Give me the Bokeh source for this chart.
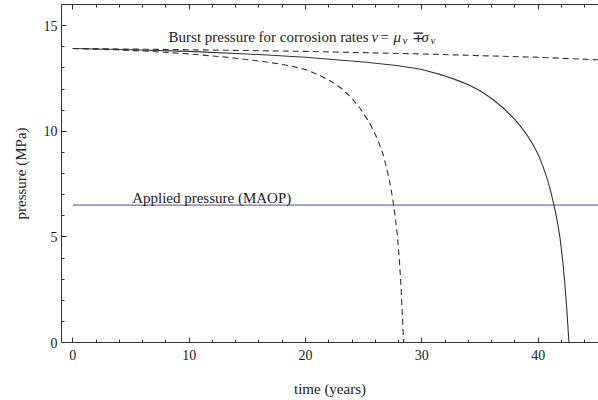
from bokeh.plotting import figure
from bokeh.models import LinearAxis, Range1d, Label, FixedTicker
from bokeh.embed import file_html
from bokeh.resources import INLINE

# Burst pressure, mean corrosion rate (solid)
t_mean = [0, 5, 10, 15, 20, 25, 28, 30, 32, 33, 34, 35, 36, 37, 38, 38.5, 39, 39.5, 40,
          40.4, 40.8, 41.1, 41.35, 41.6, 41.86, 42.1, 42.3, 42.45, 42.57, 42.64]
p_mean = [13.92, 13.86, 13.78, 13.66, 13.5, 13.28, 13.1, 12.92, 12.62, 12.42, 12.2, 11.92,
          11.55, 11.1, 10.55, 10.22, 9.85, 9.42, 8.9, 8.35, 7.7, 7.1, 6.5, 5.85, 5.0, 3.9,
          2.7, 1.6, 0.6, 0.0]

# Burst pressure, mean + sigma corrosion rate (dashed, fast)
t_fast = [0, 3.33, 6.67, 10, 13.33, 16.67, 18.67, 20, 21.33, 22, 22.67, 23.33, 24, 24.67,
          25.33, 25.67, 26, 26.33, 26.67, 26.93, 27.2, 27.4, 27.57, 27.73, 27.91, 28.07,
          28.2, 28.3, 28.38, 28.43]
p_fast = [13.92, 13.86, 13.78, 13.66, 13.5, 13.28, 13.1, 12.92, 12.62, 12.42, 12.2, 11.92,
          11.55, 11.1, 10.55, 10.22, 9.85, 9.42, 8.9, 8.35, 7.7, 7.1, 6.5, 5.85, 5.0, 3.9,
          2.7, 1.6, 0.6, 0.0]

# Burst pressure, mean - sigma corrosion rate (dashed, slow)
t_slow = [0, 10, 20, 30, 40, 45.2]
p_slow = [13.92, 13.86, 13.78, 13.66, 13.5, 13.38]

# Applied pressure (MAOP)
maop_t = [0, 45.2]
maop_p = [6.5, 6.5]

x_major = [0, 10, 20, 30, 40]
x_minor = [2, 4, 6, 8, 12, 14, 16, 18, 22, 24, 26, 28, 32, 34, 36, 38, 42, 44]
y_major = [0, 5, 10, 15]
y_minor = [1, 2, 3, 4, 6, 7, 8, 9, 11, 12, 13, 14]

FONT = "Liberation Serif"
INK = "#222222"
AX = "#333333"

p = figure(width=598, height=400, output_backend="svg", toolbar_location=None,
           x_range=Range1d(-0.97, 45.18), y_range=Range1d(0, 16.0),
           x_axis_location=None, y_axis_location=None,
           min_border_left=61, min_border_right=0, min_border_top=4, min_border_bottom=58)
p.grid.visible = False
p.outline_line_color = None
p.background_fill_color = "white"
p.border_fill_color = "white"


def style_axis(ax):
    ax.axis_line_color = AX
    ax.axis_line_width = 1
    ax.major_tick_line_color = AX
    ax.minor_tick_line_color = AX
    ax.major_tick_in = 5
    ax.major_tick_out = 0
    ax.minor_tick_in = 3
    ax.minor_tick_out = 0
    ax.major_label_text_font = FONT
    ax.major_label_text_font_size = "14px"
    ax.major_label_text_color = INK
    ax.axis_label_text_font = FONT
    ax.axis_label_text_font_size = "15px"
    ax.axis_label_text_font_style = "normal"
    ax.axis_label_text_color = INK


xax = LinearAxis(ticker=FixedTicker(ticks=x_major, minor_ticks=x_minor), axis_label="time (years)")
style_axis(xax)
xax.major_label_standoff = 7
xax.axis_label_standoff = 18
p.add_layout(xax, "below")

yax = LinearAxis(ticker=FixedTicker(ticks=y_major, minor_ticks=y_minor), axis_label="pressure (MPa)")
style_axis(yax)
yax.major_label_standoff = 4
yax.axis_label_standoff = 12
p.add_layout(yax, "left")

# top frame edge: ticks only, no labels drawn
tax = LinearAxis(ticker=FixedTicker(ticks=x_major, minor_ticks=x_minor))
style_axis(tax)
tax.major_label_text_font_size = "1px"
tax.major_label_text_color = None
tax.major_label_standoff = 0
tax.axis_label_standoff = 0
p.add_layout(tax, "above")

p.line(maop_t, maop_p, line_color="#6f6fb2", line_width=1.3)
p.line(t_slow, p_slow, line_color=AX, line_width=1.1, line_dash="6 4")
p.line(t_fast, p_fast, line_color=AX, line_width=1.1, line_dash="6 4")
p.line(t_mean, p_mean, line_color=AX, line_width=1.1)


def lab(x, y, text, size="15px", style="normal"):
    p.add_layout(Label(x=x, y=y, text=text, text_font=FONT, text_font_size=size,
                       text_font_style=style, text_color=INK,
                       text_align="left", text_baseline="alphabetic"))


lab(8.23, 14.48, "Burst pressure for corrosion rates")
lab(25.67, 14.48, "ν", style="italic")
lab(26.45, 14.48, "=")
lab(27.57, 14.48, "μ", style="italic")
lab(28.34, 14.33, "ν", size="11px", style="italic")
lab(29.11, 14.48, "∓")
lab(29.97, 14.48, "σ", style="italic")
lab(30.74, 14.33, "ν", size="11px", style="italic")
lab(5.1, 6.86, "Applied pressure (MAOP)")

open("out.html", "w").write(file_html(p, INLINE))
